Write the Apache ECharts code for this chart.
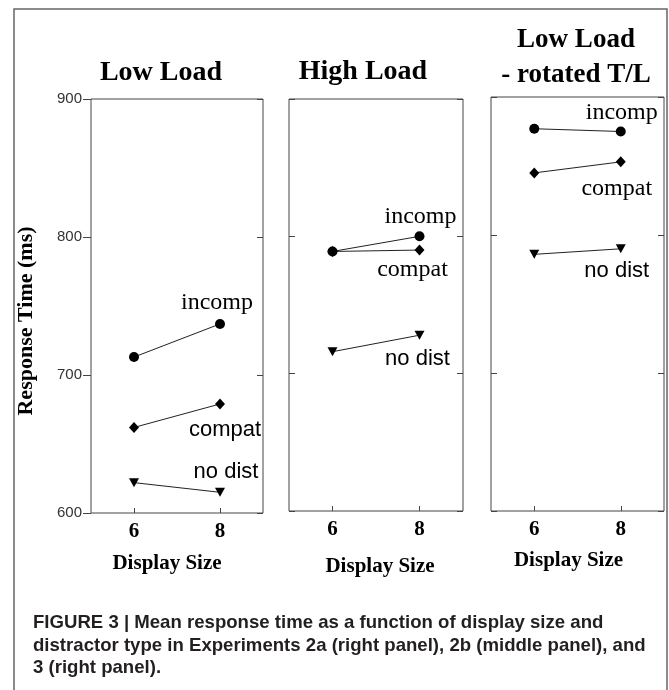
<!DOCTYPE html>
<html>
<head>
<meta charset="utf-8">
<script src="https://cdn.jsdelivr.net/npm/echarts@6/dist/echarts.min.js"></script>
<style>
html,body{margin:0;padding:0;background:#fff;}
#chart{width:669px;height:690px;}
</style>
</head>
<body>
<div id="chart"></div>
<script>
// ---- data ----
const displaySizes = ['6', '8'];
const yTicks = [600, 700, 800, 900];
const panelTitles = ['Low Load', 'High Load', 'Low Load\n- rotated T/L'];
const seriesNames = ['incomp', 'compat', 'no dist'];

const lowIncomp = [713, 737];
const lowCompat = [662, 679];
const lowNoDist = [622, 615];

const highIncomp = [789, 800];
const highCompat = [789, 790];
const highNoDist = [716, 728];

const rotIncomp = [877, 875];
const rotCompat = [845, 853];
const rotNoDist = [786, 790];

const captionLines = [
  'FIGURE 3 | Mean response time as a function of display size and',
  'distractor type in Experiments 2a (right panel), 2b (middle panel), and',
  '3 (right panel).'
];

// ---- styling / layout ----
const serif = '"Liberation Serif", "Times New Roman", serif';
const sans = '"Liberation Sans", Arial, sans-serif';
const captionFont = 'bold 18.6px "Liberation Sans", Arial, sans-serif';

const grids = [
  { left: 91, top: 99, width: 172, height: 414 },
  { left: 289, top: 99, width: 174, height: 412 },
  { left: 491, top: 97, width: 173, height: 414 }
];
const panelData = [
  [lowIncomp, lowCompat, lowNoDist],
  [highIncomp, highCompat, highNoDist],
  [rotIncomp, rotCompat, rotNoDist]
];
const symbols = [
  { symbol: 'circle', size: 10, rotate: 0 },
  { symbol: 'diamond', size: [10, 11], rotate: 0 },
  { symbol: 'triangle', size: [10, 9], rotate: 180 }
];
const labelStyles = [
  [ { off: [-3, -21], font: serif, size: 24 }, { off: [5, 26], font: sans, size: 22 }, { off: [6, -20], font: sans, size: 22 } ],
  [ { off: [1, -20], font: serif, size: 24 }, { off: [-7, 20], font: serif, size: 24 }, { off: [-2, 24], font: sans, size: 22 } ],
  [ { off: [1, -19], font: serif, size: 24 }, { off: [-4, 27], font: serif, size: 24 }, { off: [-4, 22], font: sans, size: 22 } ]
];
const xNameGaps = [40, 45, 39];
const xNamePads = [[0, 20, 0, 0], [0, 0, 0, 8], [0, 18, 0, 0]];

const option = {
  animation: false,
  backgroundColor: '#fff',
  title: [
    { text: panelTitles[0], left: 156, top: 54, textAlign: 'center',
      textStyle: { fontFamily: serif, fontWeight: 'bold', fontSize: 28, color: '#000' } },
    { text: panelTitles[1], left: 358, top: 53, textAlign: 'center',
      textStyle: { fontFamily: serif, fontWeight: 'bold', fontSize: 28, color: '#000' } },
    { text: panelTitles[2], left: 571, top: 18, textAlign: 'center',
      textStyle: { fontFamily: serif, fontWeight: 'bold', fontSize: 27, color: '#000', lineHeight: 35 } }
  ],
  grid: grids.map(g => Object.assign({ show: true, borderColor: '#444', borderWidth: 1, backgroundColor: 'transparent' }, g)),
  xAxis: grids.map((g, i) => ({
    type: 'category',
    gridIndex: i,
    data: displaySizes,
    boundaryGap: true,
    axisLine: { show: false },
    axisTick: { show: true, inside: true, alignWithLabel: true, length: 5, lineStyle: { color: '#444' } },
    axisLabel: { margin: 8, fontFamily: serif, fontWeight: 'bold', fontSize: 21, color: '#000' },
    name: 'Display Size',
    nameLocation: 'middle',
    nameGap: xNameGaps[i],
    nameTextStyle: { fontFamily: serif, fontWeight: 'bold', fontSize: 21, color: '#000', padding: xNamePads[i] },
    splitLine: { show: false }
  })),
  yAxis: [].concat(...grids.map((g, i) => [
    {
      type: 'value', gridIndex: i, position: 'left',
      min: yTicks[0], max: yTicks[yTicks.length - 1], interval: 100,
      axisLine: { show: false },
      axisTick: { show: true, inside: i !== 0, length: i === 0 ? 8 : 6, lineStyle: { color: '#444' } },
      axisLabel: { show: i === 0, margin: 9, fontFamily: sans, fontSize: 15, color: '#333' },
      splitLine: { show: false }
    },
    {
      type: 'value', gridIndex: i, position: 'right',
      min: yTicks[0], max: yTicks[yTicks.length - 1], interval: 100,
      axisLine: { show: false },
      axisTick: { show: true, inside: true, length: 6, lineStyle: { color: '#444' } },
      axisLabel: { show: false },
      splitLine: { show: false }
    }
  ])),
  series: [].concat(...panelData.map((sets, p) => sets.map((vals, s) => ({
    type: 'line',
    name: seriesNames[s],
    xAxisIndex: p,
    yAxisIndex: p * 2,
    symbol: symbols[s].symbol,
    symbolSize: symbols[s].size,
    symbolRotate: symbols[s].rotate,
    z: 3 - s,
    lineStyle: { color: '#222', width: 1 },
    itemStyle: { color: '#000' },
    data: vals.map((v, k) => k === vals.length - 1 ? {
      value: v,
      label: {
        show: true, position: 'inside', offset: labelStyles[p][s].off,
        formatter: seriesNames[s],
        fontFamily: labelStyles[p][s].font, fontSize: labelStyles[p][s].size, color: '#000'
      }
    } : v)
  })))),
  graphic: [
    { type: 'rect', shape: { x: 14, y: 9, width: 653, height: 720 },
      style: { fill: 'none', stroke: '#666', lineWidth: 1.5 }, silent: true },
    { type: 'text', x: 26, y: 321, rotation: Math.PI / 2,
      style: { text: 'Response Time (ms)', font: 'bold 22px ' + serif, fill: '#000',
        align: 'center', verticalAlign: 'middle' }, silent: true },
    { type: 'text', left: 33, top: 612,
      style: { text: captionLines.join('\n'), font: captionFont, fill: '#231f20', lineHeight: 22.5 } }
  ]
};

const chart = echarts.init(document.getElementById('chart'), null, { renderer: 'canvas' });
chart.setOption(option);
</script>
</body>
</html>
